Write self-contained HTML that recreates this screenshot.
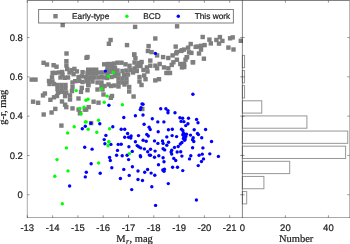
<!DOCTYPE html>
<html><head><meta charset="utf-8"><style>
html,body{margin:0;padding:0;background:#fff;width:350px;height:244px;overflow:hidden}
svg{display:block;will-change:transform}
text{text-rendering:geometricPrecision;stroke:#1a1a1a;stroke-width:0.2px}
.t{font-family:"Liberation Sans",sans-serif;font-size:9.5px;fill:#1a1a1a}
.l{font-family:"Liberation Sans",sans-serif;font-size:8.3px;fill:#1a1a1a}
.s{font-family:"Liberation Serif",serif;font-size:10.5px;fill:#1a1a1a}
</style></head><body>
<svg width="350" height="244" viewBox="0 0 350 244">
<defs><clipPath id="c"><rect x="27" y="0" width="216" height="218"/></clipPath></defs><g clip-path="url(#c)"><g fill="#7f7f7f"><rect x="60.50" y="22.90" width="4.4" height="4.4"/><rect x="132.90" y="24.70" width="4.4" height="4.4"/><rect x="174.90" y="24.10" width="4.4" height="4.4"/><rect x="153.10" y="36.30" width="4.4" height="4.4"/><rect x="124.80" y="42.90" width="4.4" height="4.4"/><rect x="146.40" y="43.90" width="4.4" height="4.4"/><rect x="173.50" y="44.40" width="4.4" height="4.4"/><rect x="108.40" y="37.80" width="4.4" height="4.4"/><rect x="106.70" y="41.60" width="4.4" height="4.4"/><rect x="200.50" y="34.80" width="4.4" height="4.4"/><rect x="207.20" y="37.40" width="4.4" height="4.4"/><rect x="208.60" y="41.20" width="4.4" height="4.4"/><rect x="217.70" y="34.90" width="4.4" height="4.4"/><rect x="214.20" y="37.80" width="4.4" height="4.4"/><rect x="220.20" y="38.70" width="4.4" height="4.4"/><rect x="216.80" y="41.40" width="4.4" height="4.4"/><rect x="227.90" y="36.10" width="4.4" height="4.4"/><rect x="230.50" y="35.20" width="4.4" height="4.4"/><rect x="226.20" y="45.40" width="4.4" height="4.4"/><rect x="231.30" y="47.30" width="4.4" height="4.4"/><rect x="238.60" y="38.60" width="4.4" height="4.4"/><rect x="188.50" y="41.80" width="4.4" height="4.4"/><rect x="185.90" y="45.50" width="4.4" height="4.4"/><rect x="181.80" y="47.40" width="4.4" height="4.4"/><rect x="195.40" y="44.40" width="4.4" height="4.4"/><rect x="198.80" y="43.60" width="4.4" height="4.4"/><rect x="202.40" y="42.90" width="4.4" height="4.4"/><rect x="198.80" y="47.40" width="4.4" height="4.4"/><rect x="186.90" y="50.10" width="4.4" height="4.4"/><rect x="196.80" y="51.30" width="4.4" height="4.4"/><rect x="184.50" y="55.00" width="4.4" height="4.4"/><rect x="183.30" y="57.50" width="4.4" height="4.4"/><rect x="190.60" y="60.00" width="4.4" height="4.4"/><rect x="201.70" y="56.50" width="4.4" height="4.4"/><rect x="182.00" y="62.40" width="4.4" height="4.4"/><rect x="182.00" y="64.80" width="4.4" height="4.4"/><rect x="145.70" y="48.80" width="4.4" height="4.4"/><rect x="149.40" y="49.90" width="4.4" height="4.4"/><rect x="154.90" y="53.20" width="4.4" height="4.4"/><rect x="179.80" y="48.10" width="4.4" height="4.4"/><rect x="174.70" y="49.80" width="4.4" height="4.4"/><rect x="189.20" y="50.70" width="4.4" height="4.4"/><rect x="193.50" y="44.70" width="4.4" height="4.4"/><rect x="160.90" y="54.90" width="4.4" height="4.4"/><rect x="166.10" y="55.80" width="4.4" height="4.4"/><rect x="170.40" y="53.20" width="4.4" height="4.4"/><rect x="184.90" y="54.90" width="4.4" height="4.4"/><rect x="174.70" y="57.50" width="4.4" height="4.4"/><rect x="190.90" y="60.10" width="4.4" height="4.4"/><rect x="148.10" y="58.40" width="4.4" height="4.4"/><rect x="144.70" y="65.20" width="4.4" height="4.4"/><rect x="148.10" y="63.50" width="4.4" height="4.4"/><rect x="153.20" y="63.50" width="4.4" height="4.4"/><rect x="157.50" y="61.80" width="4.4" height="4.4"/><rect x="154.90" y="66.10" width="4.4" height="4.4"/><rect x="161.80" y="65.20" width="4.4" height="4.4"/><rect x="166.10" y="66.10" width="4.4" height="4.4"/><rect x="169.50" y="62.70" width="4.4" height="4.4"/><rect x="171.20" y="60.10" width="4.4" height="4.4"/><rect x="178.10" y="61.80" width="4.4" height="4.4"/><rect x="181.50" y="61.80" width="4.4" height="4.4"/><rect x="179.80" y="65.20" width="4.4" height="4.4"/><rect x="164.20" y="70.80" width="4.4" height="4.4"/><rect x="167.80" y="70.80" width="4.4" height="4.4"/><rect x="142.00" y="73.30" width="4.4" height="4.4"/><rect x="143.30" y="77.00" width="4.4" height="4.4"/><rect x="153.10" y="78.20" width="4.4" height="4.4"/><rect x="156.80" y="77.00" width="4.4" height="4.4"/><rect x="178.90" y="48.70" width="4.4" height="4.4"/><rect x="174.00" y="51.20" width="4.4" height="4.4"/><rect x="132.00" y="52.40" width="4.4" height="4.4"/><rect x="64.30" y="51.30" width="4.4" height="4.4"/><rect x="29.50" y="77.40" width="4.4" height="4.4"/><rect x="33.30" y="77.40" width="4.4" height="4.4"/><rect x="67.80" y="93.20" width="4.4" height="4.4"/><rect x="40.80" y="93.20" width="4.4" height="4.4"/><rect x="48.20" y="97.60" width="4.4" height="4.4"/><rect x="35.90" y="100.60" width="4.4" height="4.4"/><rect x="59.80" y="99.30" width="4.4" height="4.4"/><rect x="67.80" y="97.30" width="4.4" height="4.4"/><rect x="76.30" y="96.30" width="4.4" height="4.4"/><rect x="54.80" y="93.80" width="4.4" height="4.4"/><rect x="51.80" y="95.10" width="4.4" height="4.4"/><rect x="62.90" y="93.90" width="4.4" height="4.4"/><rect x="30.90" y="99.50" width="4.4" height="4.4"/><rect x="62.90" y="102.50" width="4.4" height="4.4"/><rect x="64.10" y="104.90" width="4.4" height="4.4"/><rect x="70.30" y="106.20" width="4.4" height="4.4"/><rect x="76.40" y="107.40" width="4.4" height="4.4"/><rect x="77.70" y="111.10" width="4.4" height="4.4"/><rect x="53.10" y="106.70" width="4.4" height="4.4"/><rect x="49.40" y="110.30" width="4.4" height="4.4"/><rect x="41.50" y="112.30" width="4.4" height="4.4"/><rect x="59.20" y="123.40" width="4.4" height="4.4"/><rect x="82.60" y="107.40" width="4.4" height="4.4"/><rect x="108.60" y="95.60" width="4.4" height="4.4"/><rect x="91.40" y="99.50" width="4.4" height="4.4"/><rect x="96.30" y="100.50" width="4.4" height="4.4"/><rect x="86.50" y="104.90" width="4.4" height="4.4"/><rect x="84.00" y="107.40" width="4.4" height="4.4"/><rect x="88.90" y="120.90" width="4.4" height="4.4"/><rect x="140.10" y="106.80" width="4.4" height="4.4"/><rect x="41.40" y="60.60" width="4.4" height="4.4"/><rect x="44.80" y="62.30" width="4.4" height="4.4"/><rect x="51.40" y="63.00" width="4.4" height="4.4"/><rect x="54.30" y="64.50" width="4.4" height="4.4"/><rect x="64.20" y="59.00" width="4.4" height="4.4"/><rect x="64.20" y="63.30" width="4.4" height="4.4"/><rect x="84.30" y="55.60" width="4.4" height="4.4"/><rect x="74.70" y="69.20" width="4.4" height="4.4"/><rect x="80.40" y="70.00" width="4.4" height="4.4"/><rect x="85.30" y="70.80" width="4.4" height="4.4"/><rect x="76.30" y="74.90" width="4.4" height="4.4"/><rect x="79.60" y="74.10" width="4.4" height="4.4"/><rect x="83.70" y="74.90" width="4.4" height="4.4"/><rect x="87.00" y="76.60" width="4.4" height="4.4"/><rect x="55.80" y="90.50" width="4.4" height="4.4"/><rect x="59.90" y="89.70" width="4.4" height="4.4"/><rect x="64.00" y="90.50" width="4.4" height="4.4"/><rect x="73.00" y="79.00" width="4.4" height="4.4"/><rect x="77.10" y="78.70" width="4.4" height="4.4"/><rect x="80.40" y="79.80" width="4.4" height="4.4"/><rect x="69.80" y="88.90" width="4.4" height="4.4"/><rect x="79.60" y="85.60" width="4.4" height="4.4"/><rect x="78.80" y="89.70" width="4.4" height="4.4"/><rect x="84.50" y="79.00" width="4.4" height="4.4"/><rect x="86.20" y="83.10" width="4.4" height="4.4"/><rect x="85.30" y="88.00" width="4.4" height="4.4"/><rect x="42.70" y="91.30" width="4.4" height="4.4"/><rect x="50.40" y="70.70" width="4.4" height="4.4"/><rect x="52.80" y="70.70" width="4.4" height="4.4"/><rect x="49.80" y="75.10" width="4.4" height="4.4"/><rect x="46.80" y="78.80" width="4.4" height="4.4"/><rect x="50.30" y="79.30" width="4.4" height="4.4"/><rect x="47.30" y="81.80" width="4.4" height="4.4"/><rect x="51.80" y="81.80" width="4.4" height="4.4"/><rect x="56.80" y="70.30" width="4.4" height="4.4"/><rect x="60.00" y="69.80" width="4.4" height="4.4"/><rect x="67.30" y="70.30" width="4.4" height="4.4"/><rect x="58.30" y="75.30" width="4.4" height="4.4"/><rect x="62.60" y="75.60" width="4.4" height="4.4"/><rect x="65.80" y="75.30" width="4.4" height="4.4"/><rect x="60.30" y="72.80" width="4.4" height="4.4"/><rect x="69.30" y="68.00" width="4.4" height="4.4"/><rect x="72.20" y="66.70" width="4.4" height="4.4"/><rect x="71.40" y="72.00" width="4.4" height="4.4"/><rect x="65.00" y="66.80" width="4.4" height="4.4"/><rect x="55.30" y="82.80" width="4.4" height="4.4"/><rect x="59.30" y="82.80" width="4.4" height="4.4"/><rect x="63.30" y="82.80" width="4.4" height="4.4"/><rect x="55.30" y="86.80" width="4.4" height="4.4"/><rect x="59.30" y="86.80" width="4.4" height="4.4"/><rect x="63.30" y="86.30" width="4.4" height="4.4"/><rect x="70.30" y="80.30" width="4.4" height="4.4"/><rect x="70.30" y="84.80" width="4.4" height="4.4"/><rect x="85.30" y="54.80" width="4.4" height="4.4"/><rect x="105.80" y="68.80" width="4.4" height="4.4"/><rect x="109.30" y="74.80" width="4.4" height="4.4"/><rect x="102.00" y="62.10" width="4.4" height="4.4"/><rect x="106.00" y="61.80" width="4.4" height="4.4"/><rect x="110.00" y="61.80" width="4.4" height="4.4"/><rect x="112.10" y="61.40" width="4.4" height="4.4"/><rect x="115.30" y="60.50" width="4.4" height="4.4"/><rect x="119.30" y="60.50" width="4.4" height="4.4"/><rect x="123.30" y="62.10" width="4.4" height="4.4"/><rect x="127.30" y="63.60" width="4.4" height="4.4"/><rect x="132.00" y="52.40" width="4.4" height="4.4"/><rect x="133.20" y="56.10" width="4.4" height="4.4"/><rect x="132.30" y="60.30" width="4.4" height="4.4"/><rect x="136.30" y="60.80" width="4.4" height="4.4"/><rect x="139.40" y="59.80" width="4.4" height="4.4"/><rect x="86.00" y="67.50" width="4.4" height="4.4"/><rect x="90.00" y="67.50" width="4.4" height="4.4"/><rect x="94.00" y="67.50" width="4.4" height="4.4"/><rect x="86.00" y="71.30" width="4.4" height="4.4"/><rect x="90.00" y="71.30" width="4.4" height="4.4"/><rect x="94.00" y="71.30" width="4.4" height="4.4"/><rect x="98.00" y="70.30" width="4.4" height="4.4"/><rect x="101.30" y="70.30" width="4.4" height="4.4"/><rect x="86.00" y="75.30" width="4.4" height="4.4"/><rect x="90.00" y="75.30" width="4.4" height="4.4"/><rect x="96.30" y="75.30" width="4.4" height="4.4"/><rect x="99.30" y="74.80" width="4.4" height="4.4"/><rect x="101.30" y="75.30" width="4.4" height="4.4"/><rect x="105.30" y="65.80" width="4.4" height="4.4"/><rect x="109.30" y="65.80" width="4.4" height="4.4"/><rect x="112.80" y="65.80" width="4.4" height="4.4"/><rect x="108.80" y="69.80" width="4.4" height="4.4"/><rect x="112.60" y="69.80" width="4.4" height="4.4"/><rect x="105.00" y="75.80" width="4.4" height="4.4"/><rect x="105.30" y="72.30" width="4.4" height="4.4"/><rect x="115.30" y="68.30" width="4.4" height="4.4"/><rect x="116.30" y="72.30" width="4.4" height="4.4"/><rect x="120.30" y="68.80" width="4.4" height="4.4"/><rect x="124.30" y="68.30" width="4.4" height="4.4"/><rect x="128.30" y="67.80" width="4.4" height="4.4"/><rect x="132.30" y="66.30" width="4.4" height="4.4"/><rect x="121.80" y="72.80" width="4.4" height="4.4"/><rect x="125.80" y="72.30" width="4.4" height="4.4"/><rect x="130.80" y="70.30" width="4.4" height="4.4"/><rect x="138.30" y="63.80" width="4.4" height="4.4"/><rect x="116.30" y="76.30" width="4.4" height="4.4"/><rect x="120.30" y="76.30" width="4.4" height="4.4"/><rect x="124.30" y="76.30" width="4.4" height="4.4"/><rect x="116.30" y="80.30" width="4.4" height="4.4"/><rect x="120.30" y="80.30" width="4.4" height="4.4"/><rect x="124.30" y="80.30" width="4.4" height="4.4"/><rect x="122.30" y="82.30" width="4.4" height="4.4"/><rect x="127.00" y="84.80" width="4.4" height="4.4"/><rect x="127.00" y="89.30" width="4.4" height="4.4"/><rect x="137.30" y="74.80" width="4.4" height="4.4"/><rect x="137.30" y="79.30" width="4.4" height="4.4"/><rect x="139.30" y="82.80" width="4.4" height="4.4"/><rect x="131.40" y="94.30" width="4.4" height="4.4"/><rect x="86.00" y="79.30" width="4.4" height="4.4"/><rect x="86.00" y="82.30" width="4.4" height="4.4"/><rect x="95.30" y="80.30" width="4.4" height="4.4"/><rect x="99.30" y="80.30" width="4.4" height="4.4"/><rect x="102.30" y="83.80" width="4.4" height="4.4"/><rect x="95.30" y="87.30" width="4.4" height="4.4"/><rect x="100.30" y="87.30" width="4.4" height="4.4"/><rect x="101.30" y="92.30" width="4.4" height="4.4"/><rect x="106.30" y="82.30" width="4.4" height="4.4"/><rect x="108.80" y="83.80" width="4.4" height="4.4"/><rect x="109.80" y="93.80" width="4.4" height="4.4"/><rect x="141.30" y="67.80" width="4.4" height="4.4"/><rect x="145.30" y="69.30" width="4.4" height="4.4"/><rect x="134.60" y="64.30" width="4.4" height="4.4"/><rect x="134.60" y="68.80" width="4.4" height="4.4"/><rect x="90.30" y="79.30" width="4.4" height="4.4"/><rect x="92.30" y="75.30" width="4.4" height="4.4"/><rect x="99.30" y="83.80" width="4.4" height="4.4"/><rect x="112.80" y="73.80" width="4.4" height="4.4"/><rect x="112.30" y="83.30" width="4.4" height="4.4"/><rect x="116.30" y="84.30" width="4.4" height="4.4"/></g><g fill="#0000ff"><circle cx="90.90" cy="123.20" r="1.7"/><circle cx="141.00" cy="107.60" r="1.7"/><circle cx="105.40" cy="71.10" r="1.7"/><circle cx="155.40" cy="53.40" r="1.7"/><circle cx="108.90" cy="105.20" r="1.7"/><circle cx="142.00" cy="103.90" r="1.7"/><circle cx="140.30" cy="109.60" r="1.7"/><circle cx="135.40" cy="115.70" r="1.7"/><circle cx="123.80" cy="117.50" r="1.7"/><circle cx="99.80" cy="123.80" r="1.7"/><circle cx="112.80" cy="126.80" r="1.7"/><circle cx="144.10" cy="124.30" r="1.7"/><circle cx="105.90" cy="135.40" r="1.7"/><circle cx="104.20" cy="139.60" r="1.7"/><circle cx="82.30" cy="128.80" r="1.7"/><circle cx="85.30" cy="126.30" r="1.7"/><circle cx="192.90" cy="94.30" r="1.7"/><circle cx="160.70" cy="108.80" r="1.7"/><circle cx="165.90" cy="108.80" r="1.7"/><circle cx="168.00" cy="110.60" r="1.7"/><circle cx="168.00" cy="112.80" r="1.7"/><circle cx="175.00" cy="112.80" r="1.7"/><circle cx="152.30" cy="118.70" r="1.7"/><circle cx="157.80" cy="121.90" r="1.7"/><circle cx="163.90" cy="121.90" r="1.7"/><circle cx="179.90" cy="117.70" r="1.7"/><circle cx="182.65" cy="118.20" r="1.7"/><circle cx="188.50" cy="118.20" r="1.7"/><circle cx="181.10" cy="121.40" r="1.7"/><circle cx="183.90" cy="121.65" r="1.7"/><circle cx="196.60" cy="119.40" r="1.7"/><circle cx="187.95" cy="123.70" r="1.7"/><circle cx="185.75" cy="125.60" r="1.7"/><circle cx="149.10" cy="127.30" r="1.7"/><circle cx="143.00" cy="104.20" r="1.7"/><circle cx="143.00" cy="115.00" r="1.7"/><circle cx="198.00" cy="122.80" r="1.7"/><circle cx="205.60" cy="129.50" r="1.7"/><circle cx="211.55" cy="141.45" r="1.7"/><circle cx="202.25" cy="154.15" r="1.7"/><circle cx="209.80" cy="153.85" r="1.7"/><circle cx="84.70" cy="147.30" r="1.7"/><circle cx="92.10" cy="149.15" r="1.7"/><circle cx="91.15" cy="163.70" r="1.7"/><circle cx="86.30" cy="172.20" r="1.7"/><circle cx="85.30" cy="176.90" r="1.7"/><circle cx="69.60" cy="186.00" r="1.7"/><circle cx="104.90" cy="143.80" r="1.7"/><circle cx="110.90" cy="144.40" r="1.7"/><circle cx="118.20" cy="144.40" r="1.7"/><circle cx="117.50" cy="150.40" r="1.7"/><circle cx="116.60" cy="155.20" r="1.7"/><circle cx="109.60" cy="157.40" r="1.7"/><circle cx="110.30" cy="160.50" r="1.7"/><circle cx="128.60" cy="159.60" r="1.7"/><circle cx="132.40" cy="166.80" r="1.7"/><circle cx="111.80" cy="167.80" r="1.7"/><circle cx="123.80" cy="169.40" r="1.7"/><circle cx="138.00" cy="171.00" r="1.7"/><circle cx="100.20" cy="173.20" r="1.7"/><circle cx="129.20" cy="175.40" r="1.7"/><circle cx="120.40" cy="178.50" r="1.7"/><circle cx="138.00" cy="179.50" r="1.7"/><circle cx="131.70" cy="189.60" r="1.7"/><circle cx="189.50" cy="158.90" r="1.7"/><circle cx="182.75" cy="170.60" r="1.7"/><circle cx="198.25" cy="165.60" r="1.7"/><circle cx="151.80" cy="186.70" r="1.7"/><circle cx="196.40" cy="200.00" r="1.7"/><circle cx="155.60" cy="205.40" r="1.7"/><circle cx="202.90" cy="147.90" r="1.7"/><circle cx="218.40" cy="156.40" r="1.7"/><circle cx="203.50" cy="158.90" r="1.7"/><circle cx="121.20" cy="129.20" r="1.7"/><circle cx="124.70" cy="129.20" r="1.7"/><circle cx="150.20" cy="129.50" r="1.7"/><circle cx="127.60" cy="133.50" r="1.7"/><circle cx="124.70" cy="137.20" r="1.7"/><circle cx="128.60" cy="137.20" r="1.7"/><circle cx="131.10" cy="136.00" r="1.7"/><circle cx="130.80" cy="138.10" r="1.7"/><circle cx="138.50" cy="135.60" r="1.7"/><circle cx="146.80" cy="134.40" r="1.7"/><circle cx="148.30" cy="136.00" r="1.7"/><circle cx="158.20" cy="131.70" r="1.7"/><circle cx="121.20" cy="144.20" r="1.7"/><circle cx="135.40" cy="141.80" r="1.7"/><circle cx="143.10" cy="140.30" r="1.7"/><circle cx="146.20" cy="141.30" r="1.7"/><circle cx="154.50" cy="140.90" r="1.7"/><circle cx="157.90" cy="143.40" r="1.7"/><circle cx="128.90" cy="146.70" r="1.7"/><circle cx="137.20" cy="145.60" r="1.7"/><circle cx="138.70" cy="146.70" r="1.7"/><circle cx="140.70" cy="147.90" r="1.7"/><circle cx="144.40" cy="148.90" r="1.7"/><circle cx="150.50" cy="149.20" r="1.7"/><circle cx="147.70" cy="151.80" r="1.7"/><circle cx="155.10" cy="151.10" r="1.7"/><circle cx="132.30" cy="151.40" r="1.7"/><circle cx="122.20" cy="155.70" r="1.7"/><circle cx="127.10" cy="155.30" r="1.7"/><circle cx="140.30" cy="155.70" r="1.7"/><circle cx="149.30" cy="155.10" r="1.7"/><circle cx="150.50" cy="155.30" r="1.7"/><circle cx="158.80" cy="155.70" r="1.7"/><circle cx="168.40" cy="129.80" r="1.7"/><circle cx="172.30" cy="129.20" r="1.7"/><circle cx="181.50" cy="129.20" r="1.7"/><circle cx="182.80" cy="130.50" r="1.7"/><circle cx="194.20" cy="129.80" r="1.7"/><circle cx="183.40" cy="132.90" r="1.7"/><circle cx="182.80" cy="134.80" r="1.7"/><circle cx="184.60" cy="134.20" r="1.7"/><circle cx="186.50" cy="134.20" r="1.7"/><circle cx="184.00" cy="136.60" r="1.7"/><circle cx="185.80" cy="136.60" r="1.7"/><circle cx="183.40" cy="138.50" r="1.7"/><circle cx="185.20" cy="139.10" r="1.7"/><circle cx="184.60" cy="140.30" r="1.7"/><circle cx="190.50" cy="135.10" r="1.7"/><circle cx="197.50" cy="133.50" r="1.7"/><circle cx="193.20" cy="137.80" r="1.7"/><circle cx="192.60" cy="139.70" r="1.7"/><circle cx="193.80" cy="141.50" r="1.7"/><circle cx="166.80" cy="136.90" r="1.7"/><circle cx="172.10" cy="135.60" r="1.7"/><circle cx="176.60" cy="136.60" r="1.7"/><circle cx="162.50" cy="140.90" r="1.7"/><circle cx="163.10" cy="143.40" r="1.7"/><circle cx="168.60" cy="142.20" r="1.7"/><circle cx="166.80" cy="145.20" r="1.7"/><circle cx="181.90" cy="142.50" r="1.7"/><circle cx="180.30" cy="144.00" r="1.7"/><circle cx="178.20" cy="146.50" r="1.7"/><circle cx="174.50" cy="147.40" r="1.7"/><circle cx="192.60" cy="147.70" r="1.7"/><circle cx="163.10" cy="148.70" r="1.7"/><circle cx="164.70" cy="149.90" r="1.7"/><circle cx="171.70" cy="150.20" r="1.7"/><circle cx="171.10" cy="152.00" r="1.7"/><circle cx="171.70" cy="154.10" r="1.7"/><circle cx="177.20" cy="152.00" r="1.7"/><circle cx="180.70" cy="151.80" r="1.7"/><circle cx="181.90" cy="156.10" r="1.7"/><circle cx="190.80" cy="155.70" r="1.7"/><circle cx="199.10" cy="155.30" r="1.7"/><circle cx="201.70" cy="137.70" r="1.7"/><circle cx="198.40" cy="134.60" r="1.7"/><circle cx="140.60" cy="156.80" r="1.7"/><circle cx="154.50" cy="157.20" r="1.7"/><circle cx="163.10" cy="157.70" r="1.7"/><circle cx="164.00" cy="161.80" r="1.7"/><circle cx="173.80" cy="158.40" r="1.7"/><circle cx="175.70" cy="160.50" r="1.7"/><circle cx="158.50" cy="164.80" r="1.7"/><circle cx="172.60" cy="167.30" r="1.7"/><circle cx="177.50" cy="167.30" r="1.7"/><circle cx="147.60" cy="169.50" r="1.7"/><circle cx="144.70" cy="172.20" r="1.7"/><circle cx="151.10" cy="173.10" r="1.7"/><circle cx="154.80" cy="175.30" r="1.7"/><circle cx="162.80" cy="170.00" r="1.7"/><circle cx="164.40" cy="169.20" r="1.7"/><circle cx="164.00" cy="171.20" r="1.7"/><circle cx="142.50" cy="180.50" r="1.7"/><circle cx="168.30" cy="183.60" r="1.7"/><circle cx="201.50" cy="161.50" r="1.7"/></g><g fill="#00ff00"><circle cx="76.20" cy="90.60" r="1.7"/><circle cx="86.00" cy="100.30" r="1.7"/><circle cx="113.30" cy="72.50" r="1.7"/><circle cx="108.40" cy="76.20" r="1.7"/><circle cx="101.70" cy="88.70" r="1.7"/><circle cx="107.10" cy="96.10" r="1.7"/><circle cx="88.00" cy="99.30" r="1.7"/><circle cx="104.20" cy="102.20" r="1.7"/><circle cx="122.40" cy="104.70" r="1.7"/><circle cx="79.90" cy="108.40" r="1.7"/><circle cx="84.00" cy="107.10" r="1.7"/><circle cx="81.10" cy="113.80" r="1.7"/><circle cx="85.30" cy="121.90" r="1.7"/><circle cx="74.20" cy="126.80" r="1.7"/><circle cx="67.60" cy="133.00" r="1.7"/><circle cx="86.20" cy="121.90" r="1.7"/><circle cx="98.50" cy="120.20" r="1.7"/><circle cx="88.20" cy="129.30" r="1.7"/><circle cx="96.80" cy="132.20" r="1.7"/><circle cx="109.60" cy="128.80" r="1.7"/><circle cx="108.90" cy="142.00" r="1.7"/><circle cx="66.40" cy="147.90" r="1.7"/><circle cx="57.00" cy="159.60" r="1.7"/><circle cx="68.00" cy="170.90" r="1.7"/><circle cx="54.80" cy="176.30" r="1.7"/><circle cx="62.30" cy="203.70" r="1.7"/><circle cx="108.70" cy="141.60" r="1.7"/><circle cx="108.10" cy="145.70" r="1.7"/><circle cx="129.40" cy="153.60" r="1.7"/><circle cx="98.60" cy="163.00" r="1.7"/></g></g><line x1="27.50" y1="0.50" x2="349.50" y2="0.50" stroke="rgba(38,38,38,0.58)" stroke-width="1"/><line x1="27.30" y1="0.00" x2="27.30" y2="218.00" stroke="rgba(38,38,38,0.40)" stroke-width="1"/><line x1="27.00" y1="217.50" x2="350.00" y2="217.50" stroke="rgba(38,38,38,0.40)" stroke-width="1"/><line x1="242.40" y1="0.00" x2="242.40" y2="218.00" stroke="rgba(38,38,38,0.55)" stroke-width="1"/><line x1="349.50" y1="0.00" x2="349.50" y2="218.00" stroke="rgba(38,38,38,0.33)" stroke-width="1"/><line x1="27.30" y1="217.50" x2="27.30" y2="215.30" stroke="rgba(38,38,38,0.48)" stroke-width="1"/><line x1="27.30" y1="0.50" x2="27.30" y2="2.70" stroke="rgba(38,38,38,0.48)" stroke-width="1"/><text x="27.30" y="230.6" text-anchor="middle" class="t">-13</text><line x1="52.60" y1="217.50" x2="52.60" y2="215.30" stroke="rgba(38,38,38,0.48)" stroke-width="1"/><line x1="52.60" y1="0.50" x2="52.60" y2="2.70" stroke="rgba(38,38,38,0.48)" stroke-width="1"/><text x="52.60" y="230.6" text-anchor="middle" class="t">-14</text><line x1="77.90" y1="217.50" x2="77.90" y2="215.30" stroke="rgba(38,38,38,0.48)" stroke-width="1"/><line x1="77.90" y1="0.50" x2="77.90" y2="2.70" stroke="rgba(38,38,38,0.48)" stroke-width="1"/><text x="77.90" y="230.6" text-anchor="middle" class="t">-15</text><line x1="103.20" y1="217.50" x2="103.20" y2="215.30" stroke="rgba(38,38,38,0.48)" stroke-width="1"/><line x1="103.20" y1="0.50" x2="103.20" y2="2.70" stroke="rgba(38,38,38,0.48)" stroke-width="1"/><text x="103.20" y="230.6" text-anchor="middle" class="t">-16</text><line x1="128.50" y1="217.50" x2="128.50" y2="215.30" stroke="rgba(38,38,38,0.48)" stroke-width="1"/><line x1="128.50" y1="0.50" x2="128.50" y2="2.70" stroke="rgba(38,38,38,0.48)" stroke-width="1"/><text x="128.50" y="230.6" text-anchor="middle" class="t">-17</text><line x1="153.80" y1="217.50" x2="153.80" y2="215.30" stroke="rgba(38,38,38,0.48)" stroke-width="1"/><line x1="153.80" y1="0.50" x2="153.80" y2="2.70" stroke="rgba(38,38,38,0.48)" stroke-width="1"/><text x="153.80" y="230.6" text-anchor="middle" class="t">-18</text><line x1="179.10" y1="217.50" x2="179.10" y2="215.30" stroke="rgba(38,38,38,0.48)" stroke-width="1"/><line x1="179.10" y1="0.50" x2="179.10" y2="2.70" stroke="rgba(38,38,38,0.48)" stroke-width="1"/><text x="179.10" y="230.6" text-anchor="middle" class="t">-19</text><line x1="204.40" y1="217.50" x2="204.40" y2="215.30" stroke="rgba(38,38,38,0.48)" stroke-width="1"/><line x1="204.40" y1="0.50" x2="204.40" y2="2.70" stroke="rgba(38,38,38,0.48)" stroke-width="1"/><text x="204.40" y="230.6" text-anchor="middle" class="t">-20</text><line x1="229.70" y1="217.50" x2="229.70" y2="215.30" stroke="rgba(38,38,38,0.48)" stroke-width="1"/><line x1="229.70" y1="0.50" x2="229.70" y2="2.70" stroke="rgba(38,38,38,0.48)" stroke-width="1"/><text x="229.70" y="230.6" text-anchor="middle" class="t">-21</text><line x1="27.30" y1="194.75" x2="29.50" y2="194.75" stroke="rgba(38,38,38,0.48)" stroke-width="1"/><line x1="240.20" y1="194.75" x2="244.60" y2="194.75" stroke="rgba(38,38,38,0.48)" stroke-width="1"/><line x1="349.50" y1="194.75" x2="347.30" y2="194.75" stroke="rgba(38,38,38,0.48)" stroke-width="1"/><text x="22.9" y="198.05" text-anchor="end" class="t">0</text><line x1="27.30" y1="155.45" x2="29.50" y2="155.45" stroke="rgba(38,38,38,0.48)" stroke-width="1"/><line x1="240.20" y1="155.45" x2="244.60" y2="155.45" stroke="rgba(38,38,38,0.48)" stroke-width="1"/><line x1="349.50" y1="155.45" x2="347.30" y2="155.45" stroke="rgba(38,38,38,0.48)" stroke-width="1"/><text x="22.9" y="158.75" text-anchor="end" class="t">0.2</text><line x1="27.30" y1="116.15" x2="29.50" y2="116.15" stroke="rgba(38,38,38,0.48)" stroke-width="1"/><line x1="240.20" y1="116.15" x2="244.60" y2="116.15" stroke="rgba(38,38,38,0.48)" stroke-width="1"/><line x1="349.50" y1="116.15" x2="347.30" y2="116.15" stroke="rgba(38,38,38,0.48)" stroke-width="1"/><text x="22.9" y="119.45" text-anchor="end" class="t">0.4</text><line x1="27.30" y1="76.85" x2="29.50" y2="76.85" stroke="rgba(38,38,38,0.48)" stroke-width="1"/><line x1="240.20" y1="76.85" x2="244.60" y2="76.85" stroke="rgba(38,38,38,0.48)" stroke-width="1"/><line x1="349.50" y1="76.85" x2="347.30" y2="76.85" stroke="rgba(38,38,38,0.48)" stroke-width="1"/><text x="22.9" y="80.15" text-anchor="end" class="t">0.6</text><line x1="27.30" y1="37.55" x2="29.50" y2="37.55" stroke="rgba(38,38,38,0.48)" stroke-width="1"/><line x1="240.20" y1="37.55" x2="244.60" y2="37.55" stroke="rgba(38,38,38,0.48)" stroke-width="1"/><line x1="349.50" y1="37.55" x2="347.30" y2="37.55" stroke="rgba(38,38,38,0.48)" stroke-width="1"/><text x="22.9" y="40.85" text-anchor="end" class="t">0.8</text><rect x="242.4" y="55.40" width="2.15" height="12.30" fill="none" stroke="rgba(38,38,38,0.48)" stroke-width="1"/><rect x="242.4" y="70.53" width="2.15" height="12.30" fill="none" stroke="rgba(38,38,38,0.48)" stroke-width="1"/><rect x="242.4" y="85.66" width="2.15" height="12.30" fill="none" stroke="rgba(38,38,38,0.48)" stroke-width="1"/><rect x="242.4" y="100.79" width="19.35" height="12.30" fill="none" stroke="rgba(38,38,38,0.48)" stroke-width="1"/><rect x="242.4" y="115.92" width="64.50" height="12.30" fill="none" stroke="rgba(38,38,38,0.48)" stroke-width="1"/><rect x="242.4" y="131.05" width="105.35" height="12.30" fill="none" stroke="rgba(38,38,38,0.48)" stroke-width="1"/><rect x="242.4" y="146.18" width="103.20" height="12.30" fill="none" stroke="rgba(38,38,38,0.48)" stroke-width="1"/><rect x="242.4" y="161.31" width="47.30" height="12.30" fill="none" stroke="rgba(38,38,38,0.48)" stroke-width="1"/><rect x="242.4" y="176.44" width="21.50" height="12.30" fill="none" stroke="rgba(38,38,38,0.48)" stroke-width="1"/><rect x="242.4" y="191.57" width="4.30" height="12.30" fill="none" stroke="rgba(38,38,38,0.48)" stroke-width="1"/><text x="242.40" y="230.6" text-anchor="middle" class="t">0</text><line x1="285.40" y1="217.50" x2="285.40" y2="215.30" stroke="rgba(38,38,38,0.48)" stroke-width="1"/><line x1="285.40" y1="0.50" x2="285.40" y2="2.70" stroke="rgba(38,38,38,0.48)" stroke-width="1"/><text x="285.40" y="230.6" text-anchor="middle" class="t">20</text><line x1="328.40" y1="217.50" x2="328.40" y2="215.30" stroke="rgba(38,38,38,0.48)" stroke-width="1"/><line x1="328.40" y1="0.50" x2="328.40" y2="2.70" stroke="rgba(38,38,38,0.48)" stroke-width="1"/><text x="328.40" y="230.6" text-anchor="middle" class="t">40</text><rect x="38.6" y="9.5" width="194.8" height="13.5" fill="#fff" stroke="rgba(38,38,38,0.6)" stroke-width="1"/><rect x="53.3" y="14.0" width="4.4" height="4.4" fill="#7f7f7f"/><text x="72" y="19.3" class="l">Early-type</text><circle cx="126.9" cy="16.2" r="1.7" fill="#00ff00"/><text x="143.3" y="19.3" class="l">BCD</text><circle cx="178.3" cy="16.2" r="1.7" fill="#0000ff"/><text x="194.7" y="19.3" class="l">This work</text><text x="116.3" y="241.7" class="s">M<tspan font-style="italic" font-size="8" dx="0.3" dy="2.6">r</tspan><tspan dx="0.4" dy="-2.6">, mag</tspan></text><text x="296.1" y="241.7" text-anchor="middle" class="s">Number</text><text transform="translate(6.3,107.2) rotate(-90)" text-anchor="middle" class="s">g-r, mag</text>
</svg></body></html>
